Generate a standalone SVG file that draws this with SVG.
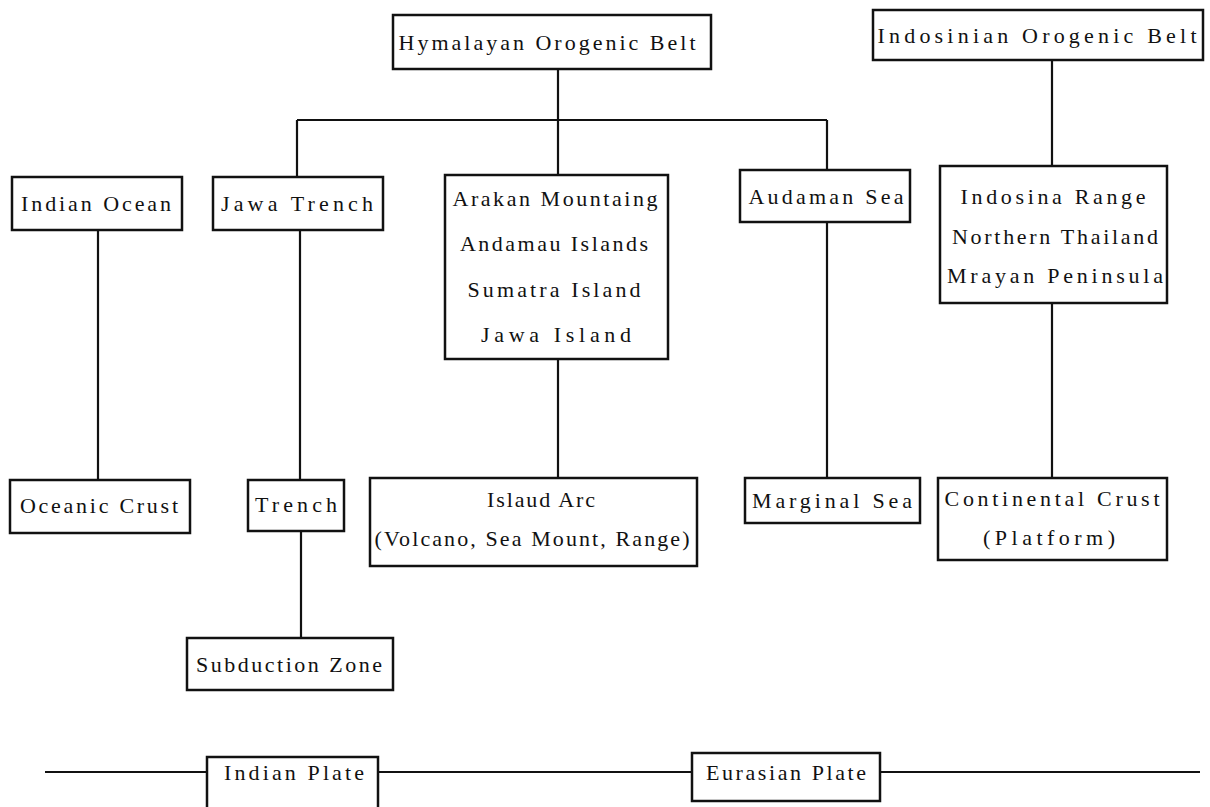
<svg xmlns="http://www.w3.org/2000/svg" width="1210" height="807" viewBox="0 0 1210 807">
<style>
.b{fill:#fff;stroke:#111;stroke-width:2.5}
.c{fill:none;stroke:#111;stroke-width:2.2}
text{font-family:"Liberation Serif","DejaVu Serif",serif;font-size:22px;fill:#111;text-anchor:middle}
</style>
<rect width="1210" height="807" fill="#fff"/>
<g id="connectors">
<path class="c" d="M558 69V175M297 120H827M297 120V177M827 120V170M1052 60V166"/>
<path class="c" d="M98 230V480M300 230V480M558 359V478M827 222V478M1052 303V478M301 531V638"/>
<path class="c" d="M45 772H207M378 772H692M880 772H1200"/>
</g>
<g id="hymalayan"><rect class="b" x="393" y="15" width="318" height="54"/><text x="547" y="50" textLength="297" lengthAdjust="spacing">Hymalayan Orogenic Belt</text></g>
<g id="indosinian"><rect class="b" x="873" y="10" width="330" height="50"/><text x="1037" y="43" textLength="319" lengthAdjust="spacing">Indosinian Orogenic Belt</text></g>
<g id="indian-ocean"><rect class="b" x="12" y="177" width="170" height="53"/><text x="96" y="211" textLength="150" lengthAdjust="spacing">Indian Ocean</text></g>
<g id="jawa-trench"><rect class="b" x="213" y="177" width="170" height="53"/><text x="297" y="211" textLength="152" lengthAdjust="spacing">Jawa Trench</text></g>
<g id="arakan"><rect class="b" x="445" y="175" width="223" height="184"/>
<text x="555" y="206" textLength="205" lengthAdjust="spacing">Arakan Mountaing</text>
<text x="554" y="251" textLength="188" lengthAdjust="spacing">Andamau Islands</text>
<text x="554" y="297" textLength="173" lengthAdjust="spacing">Sumatra Island</text>
<text x="556" y="342" textLength="150" lengthAdjust="spacing">Jawa Island</text></g>
<g id="audaman"><rect class="b" x="740" y="170" width="170" height="52"/><text x="826" y="204" textLength="155" lengthAdjust="spacing">Audaman Sea</text></g>
<g id="indosina"><rect class="b" x="940" y="166" width="227" height="137"/>
<text x="1053" y="204" textLength="185" lengthAdjust="spacing">Indosina Range</text>
<text x="1055" y="244" textLength="206" lengthAdjust="spacing">Northern Thailand</text>
<text x="1055" y="283" textLength="216" lengthAdjust="spacing">Mrayan Peninsula</text></g>
<g id="oceanic-crust"><rect class="b" x="10" y="480" width="180" height="53"/><text x="99" y="513" textLength="158" lengthAdjust="spacing">Oceanic Crust</text></g>
<g id="trench"><rect class="b" x="248" y="480" width="96" height="51"/><text x="296" y="512" textLength="82" lengthAdjust="spacing">Trench</text></g>
<g id="island-arc"><rect class="b" x="370" y="478" width="327" height="88"/>
<text x="541" y="507" textLength="108" lengthAdjust="spacing">Islaud Arc</text>
<text x="532" y="546" textLength="315" lengthAdjust="spacing">(Volcano, Sea Mount, Range)</text></g>
<g id="marginal-sea"><rect class="b" x="745" y="478" width="175" height="45"/><text x="832" y="508" textLength="160" lengthAdjust="spacing">Marginal Sea</text></g>
<g id="continental-crust"><rect class="b" x="938" y="478" width="229" height="82"/>
<text x="1052" y="506" textLength="215" lengthAdjust="spacing">Continental Crust</text>
<text x="1049" y="545" textLength="132" lengthAdjust="spacing">(Platform)</text></g>
<g id="subduction-zone"><rect class="b" x="187" y="638" width="206" height="52"/><text x="289" y="672" textLength="186" lengthAdjust="spacing">Subduction Zone</text></g>
<g id="indian-plate"><rect class="b" x="207" y="757" width="171" height="60"/><text x="294" y="780" textLength="140" lengthAdjust="spacing">Indian Plate</text></g>
<g id="eurasian-plate"><rect class="b" x="692" y="753" width="188" height="48"/><text x="786" y="780" textLength="160" lengthAdjust="spacing">Eurasian Plate</text></g>
</svg>
